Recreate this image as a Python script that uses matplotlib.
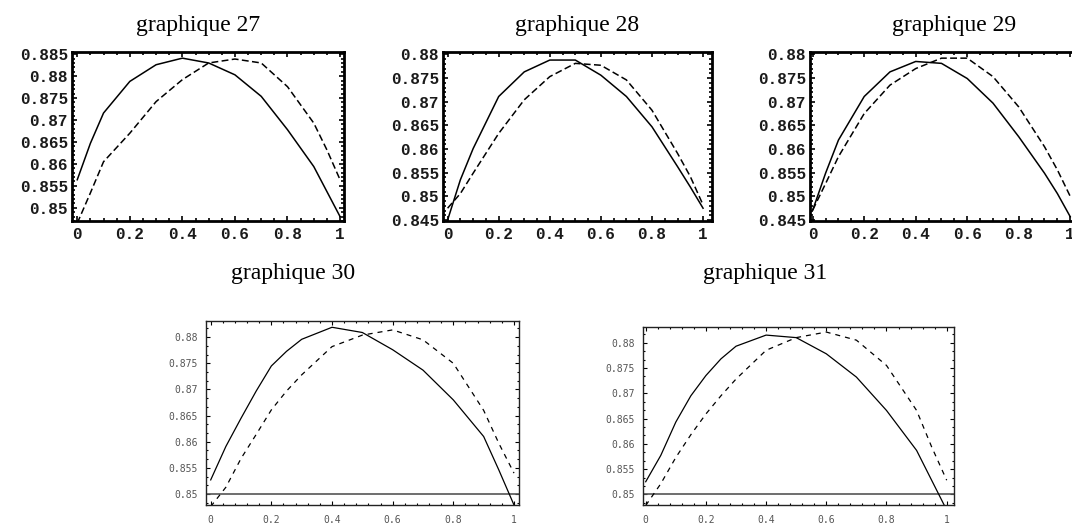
import matplotlib
matplotlib.use("Agg")
import matplotlib.pyplot as plt
from matplotlib.ticker import MultipleLocator, FixedLocator, FuncFormatter

# ---------------- data ----------------
x_top = [0.0, 0.05, 0.1, 0.2, 0.3, 0.4, 0.5, 0.6, 0.7, 0.8, 0.9, 0.95, 1.0]

g27_solid  = [0.8564, 0.8647, 0.8716, 0.8788, 0.8826, 0.8841, 0.8830, 0.8803, 0.8754, 0.8678, 0.8594, 0.8537, 0.8480]
g27_dashed = [0.8465, 0.8534, 0.8605, 0.8670, 0.8742, 0.8792, 0.8830, 0.8839, 0.8830, 0.8776, 0.8693, 0.8632, 0.8564]

g28_solid  = [0.8450, 0.8535, 0.8601, 0.8711, 0.8763, 0.8788, 0.8788, 0.8756, 0.8711, 0.8647, 0.8563, 0.8520, 0.8475]
g28_dashed = [0.8475, 0.8506, 0.8549, 0.8633, 0.8704, 0.8753, 0.8781, 0.8777, 0.8746, 0.8682, 0.8591, 0.8542, 0.8482]

g29_solid  = [0.8471, 0.8549, 0.8619, 0.8711, 0.8763, 0.8785, 0.8781, 0.8749, 0.8697, 0.8626, 0.8549, 0.8506, 0.8457]
g29_dashed = [0.8471, 0.8527, 0.8584, 0.8675, 0.8735, 0.8770, 0.8792, 0.8792, 0.8753, 0.8689, 0.8605, 0.8556, 0.8500]

x_bottom = [0.0, 0.05, 0.1, 0.15, 0.2, 0.25, 0.3, 0.4, 0.5, 0.6, 0.7, 0.8, 0.9, 0.95, 1.0]

g30_solid  = [0.8527, 0.8591, 0.8645, 0.8697, 0.8745, 0.8773, 0.8796, 0.8819, 0.8809, 0.8776, 0.8737, 0.8680, 0.8610, 0.8546, 0.8479]
g30_dashed = [0.8476, 0.8513, 0.8568, 0.8614, 0.8661, 0.8697, 0.8728, 0.8782, 0.8804, 0.8814, 0.8795, 0.8750, 0.8660, 0.8597, 0.8540]

g31_solid  = [0.8525, 0.8577, 0.8643, 0.8695, 0.8735, 0.8768, 0.8793, 0.8815, 0.8810, 0.8778, 0.8732, 0.8666, 0.8587, 0.8528, 0.8469]
g31_dashed = [0.8478, 0.8521, 0.8573, 0.8618, 0.8659, 0.8695, 0.8728, 0.8785, 0.8810, 0.8821, 0.8805, 0.8755, 0.8666, 0.8594, 0.8528]

titles = ["graphique 27", "graphique 28", "graphique 29", "graphique 30", "graphique 31"]
x_ticks = [0, 0.2, 0.4, 0.6, 0.8, 1]
y_ticks_27 = [0.85, 0.855, 0.86, 0.865, 0.87, 0.875, 0.88, 0.885]
y_ticks_28 = [0.845, 0.85, 0.855, 0.86, 0.865, 0.87, 0.875, 0.88]
y_ticks_bottom = [0.85, 0.855, 0.86, 0.865, 0.87, 0.875, 0.88]
ref_level = 0.85

# ---------------- figure ----------------
W, H = 1072, 530
fig = plt.figure(figsize=(W / 100, H / 100), dpi=100)
fig.patch.set_facecolor("white")


def box(l, r, t, b):
    return [l / W, 1 - b / H, (r - l) / W, (b - t) / H]


def fmt(v, pos):
    return ("%.3f" % v).rstrip("0").rstrip(".")


def style_top(ax, yticks, xlim, ylim):
    ax.set_xlim(*xlim)
    ax.set_ylim(*ylim)
    ax.xaxis.set_major_locator(FixedLocator(x_ticks))
    ax.yaxis.set_major_locator(FixedLocator(yticks))
    ax.xaxis.set_minor_locator(MultipleLocator(0.05))
    ax.yaxis.set_minor_locator(MultipleLocator(0.001))
    ax.xaxis.set_major_formatter(FuncFormatter(fmt))
    ax.yaxis.set_major_formatter(FuncFormatter(fmt))
    ax.tick_params(which="both", direction="in", top=True, right=True,
                   colors="black", width=1.2)
    ax.tick_params(which="major", length=3.5)
    ax.tick_params(which="minor", length=2)
    ax.tick_params(axis="y", pad=3)
    ax.tick_params(axis="x", pad=4)
    for lab in ax.get_xticklabels() + ax.get_yticklabels():
        lab.set_family("Liberation Mono")
        lab.set_fontweight("bold")
        lab.set_fontsize(11.5)
        lab.set_color("#1a1a1a")
    for sp in ax.spines.values():
        sp.set_linewidth(2.0)
        sp.set_color("black")


def style_bottom(ax, xlim, ylim):
    ax.set_xlim(*xlim)
    ax.set_ylim(*ylim)
    ax.xaxis.set_major_locator(FixedLocator(x_ticks))
    ax.yaxis.set_major_locator(FixedLocator(y_ticks_bottom))
    ax.xaxis.set_minor_locator(MultipleLocator(0.04))
    ax.yaxis.set_minor_locator(MultipleLocator(0.005 / 3))
    ax.xaxis.set_major_formatter(FuncFormatter(fmt))
    ax.yaxis.set_major_formatter(FuncFormatter(fmt))
    ax.tick_params(which="both", direction="in", top=True, right=True,
                   colors="black", width=0.8)
    ax.tick_params(which="major", length=3)
    ax.tick_params(which="minor", length=1.6)
    ax.tick_params(axis="y", pad=6)
    ax.tick_params(axis="x", pad=7)
    for lab in ax.get_xticklabels() + ax.get_yticklabels():
        lab.set_family("DejaVu Sans Mono")
        lab.set_fontsize(7)
        lab.set_color("#555555")
    for sp in ax.spines.values():
        sp.set_linewidth(1.0)
        sp.set_color("#222222")


# top row
top_specs = [
    (box(72, 344, 52, 221), g27_solid, g27_dashed, y_ticks_27, (-0.020, 1.015), (0.8470, 0.8855)),
    (box(443, 712, 52, 221), g28_solid, g28_dashed, y_ticks_28, (-0.018, 1.035), (0.8448, 0.8805)),
    (box(810, 1079, 52, 221), g29_solid, g29_dashed, y_ticks_28, (-0.0105, 1.034), (0.8448, 0.8805)),
]
for rect, ys, yd, yt, xl, yl in top_specs:
    ax = fig.add_axes(rect)
    ax.plot(x_top, ys, color="black", lw=1.1, solid_joinstyle="round")
    ax.plot(x_top, yd, color="black", lw=1.1, dashes=(4.5, 2.2))
    style_top(ax, yt, xl, yl)

# bottom row
bottom_specs = [
    (box(206, 519, 321, 505), g30_solid, g30_dashed, (-0.0155, 1.0165)),
    (box(643, 954, 327, 505), g31_solid, g31_dashed, (-0.009, 1.0243)),
]
for rect, ys, yd, xl in bottom_specs:
    ax = fig.add_axes(rect)
    ax.axhline(ref_level, color="#555555", lw=1.2)
    ax.plot(x_bottom, ys, color="black", lw=0.9)
    ax.plot(x_bottom, yd, color="black", lw=0.9, dashes=(4, 4))
    style_bottom(ax, xl, (0.8479, 0.8831))

# titles
title_pos = [(198, 25), (577, 25), (954, 25), (293, 273), (765, 273)]
for t, (px, py) in zip(titles, title_pos):
    fig.text(px / W, 1 - py / H, t, ha="center", va="center",
             family="Liberation Serif", fontsize=17, color="black")

fig.savefig("out.png", dpi=100, facecolor="white")
